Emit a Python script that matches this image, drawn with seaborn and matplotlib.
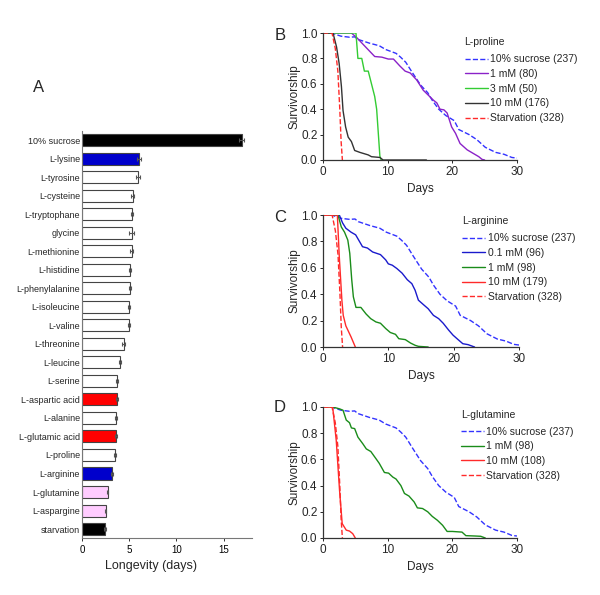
import numpy as np
import pandas as pd
import matplotlib
matplotlib.use("Agg")
import matplotlib.pyplot as plt
import seaborn as sns

sns.set_theme(style="ticks")
plt.rcParams['font.family'] = ['Liberation Sans', 'DejaVu Sans']

# ---- Panel A data: mean longevity (days) ----
names = ["10% sucrose", "L-lysine", "L-tyrosine", "L-cysteine", "L-tryptophane", "glycine",
         "L-methionine", "L-histidine", "L-phenylalanine", "L-isoleucine", "L-valine",
         "L-threonine", "L-leucine", "L-serine", "L-aspartic acid", "L-alanine",
         "L-glutamic acid", "L-proline", "L-arginine", "L-glutamine", "L-aspargine", "starvation"]
longevity = [16.9, 6.0, 5.9, 5.35, 5.3, 5.25, 5.25, 5.1, 5.05, 5.0, 5.0,
             4.4, 4.05, 3.75, 3.75, 3.6, 3.6, 3.5, 3.15, 2.7, 2.5, 2.45]
sem = [0.3, 0.2, 0.2, 0.15, 0.1, 0.3, 0.12, 0.12, 0.1, 0.1, 0.1,
       0.12, 0.1, 0.1, 0.1, 0.08, 0.1, 0.1, 0.08, 0.08, 0.08, 0.08]
bar_colors = ["black", "#0000cc", "white", "white", "white", "white", "white", "white",
              "white", "white", "white", "white", "white", "white", "#ff0000", "white",
              "#ff0000", "white", "#0000cc", "#ffccff", "#ffccff", "black"]

# ---- Survival curves (days, survivorship) ----
suc_d = [0, 1.3, 2.8, 4.1, 4.9, 5.4, 7.2, 8.7, 9.7, 11.3, 12.0, 12.8, 13.8, 15.1, 16.2,
         16.9, 17.9, 19.0, 20.3, 21.0, 22.6, 23.8, 25.1, 26.7, 28.0, 29.2, 30.0]
suc_s = [1.0, 1.0, 0.975, 0.967, 0.97, 0.95, 0.92, 0.90, 0.87, 0.84, 0.81, 0.77, 0.69, 0.59, 0.53,
         0.47, 0.40, 0.35, 0.31, 0.24, 0.20, 0.16, 0.10, 0.06, 0.045, 0.02, 0.015]
starv_d = [0, 1.4, 1.9, 2.3, 2.6, 2.8, 3.0]
starv_s = [1.0, 1.0, 0.88, 0.70, 0.40, 0.15, 0.0]

# L-proline
pro1_d = [0, 4.4, 5.2, 6.5, 7.25, 8.0, 9.1, 10.1, 10.9, 11.9, 12.7, 13.5, 14.5, 15.5, 16.3, 17.1,
          17.6, 18.1, 18.7, 19.2, 19.9, 20.5, 21.2, 22.3, 23.3, 24.1, 24.6, 25.0]
pro1_s = [1.0, 1.0, 0.965, 0.895, 0.855, 0.815, 0.81, 0.795, 0.795, 0.74, 0.70, 0.685, 0.63, 0.55,
          0.51, 0.47, 0.45, 0.40, 0.395, 0.37, 0.26, 0.21, 0.13, 0.08, 0.05, 0.026, 0.005, 0.0]
pro3_d = [0, 5.1, 5.4, 6.0, 6.4, 7.0, 8.0, 8.3, 8.8, 9.0]
pro3_s = [1.0, 1.0, 0.80, 0.80, 0.70, 0.70, 0.50, 0.40, 0.03, 0.0]
pro10_d = [0, 1.55, 2.1, 2.5, 2.85, 3.1, 3.5, 3.9, 4.4, 4.9, 5.7, 7.0, 7.5, 8.8, 9.3, 16.0]
pro10_s = [1.0, 1.0, 0.89, 0.76, 0.58, 0.39, 0.26, 0.18, 0.145, 0.075, 0.06, 0.04, 0.026, 0.02, 0.0, 0.0]

# L-arginine
arg01_d = [0, 2.5, 3.0, 3.5, 4.3, 5.0, 6.05, 6.8, 7.6, 8.8, 9.6, 10.0, 10.6, 11.3, 12.1, 12.9, 13.6,
           14.1, 14.6, 15.4, 16.1, 16.9, 17.7, 18.4, 19.2, 19.9, 20.7, 21.4, 22.2, 23.2]
arg01_s = [1.0, 1.0, 0.94, 0.90, 0.87, 0.85, 0.76, 0.75, 0.72, 0.70, 0.66, 0.63, 0.62, 0.595, 0.56,
           0.51, 0.48, 0.43, 0.355, 0.32, 0.29, 0.24, 0.215, 0.18, 0.13, 0.09, 0.055, 0.025, 0.018, 0.0]
arg1_d = [0, 2.3, 2.8, 3.3, 3.8, 4.1, 4.4, 4.65, 5.05, 5.8, 6.6, 7.3, 8.1, 8.8, 9.6, 10.3, 11.1,
          11.6, 12.6, 13.4, 14.1, 14.6, 16.1]
arg1_s = [1.0, 1.0, 0.91, 0.87, 0.81, 0.71, 0.51, 0.38, 0.30, 0.30, 0.25, 0.215, 0.19, 0.18, 0.14,
          0.11, 0.096, 0.063, 0.056, 0.03, 0.013, 0.005, 0.0]
arg10_d = [0, 2.2, 2.5, 2.9, 3.1, 3.5, 4.3, 4.95]
arg10_s = [1.0, 1.0, 0.68, 0.35, 0.24, 0.16, 0.076, 0.0]

# L-glutamine
gln1_d = [0, 1.5, 2.6, 3.1, 3.6, 4.1, 4.4, 4.9, 5.4, 6.15, 6.7, 7.4, 8.2, 8.7, 9.5, 10.15, 10.8,
          11.3, 12.05, 12.6, 13.3, 14.1, 14.6, 15.4, 16.2, 16.9, 17.7, 18.5, 19.2, 20.0, 21.5, 22.1,
          23.6, 24.4, 25.1]
gln1_s = [1.0, 1.0, 0.985, 0.975, 0.90, 0.88, 0.84, 0.835, 0.77, 0.72, 0.68, 0.66, 0.605, 0.57,
          0.50, 0.495, 0.465, 0.45, 0.40, 0.34, 0.32, 0.275, 0.23, 0.225, 0.20, 0.165, 0.135, 0.097,
          0.05, 0.05, 0.045, 0.018, 0.015, 0.013, 0.0]
gln10_d = [0, 1.5, 2.05, 2.56, 2.97, 3.6, 4.1, 4.6, 5.0]
gln10_s = [1.0, 1.0, 0.745, 0.365, 0.11, 0.06, 0.053, 0.033, 0.0]

blue_dash = "#3333ff"
red = "#ff2a2a"

fig = plt.figure(figsize=(6, 5.95), dpi=100)

# ---------------- Panel A ----------------
axA = fig.add_axes([0.1367, 0.0952, 0.2833, 0.685])
dfA = pd.DataFrame({"name": names, "longevity": longevity})
sns.barplot(data=dfA, x="longevity", y="name", hue="name", palette=bar_colors, legend=False,
            orient="h", width=0.65, edgecolor="#444444", linewidth=0.8, errorbar=None,
            saturation=1, ax=axA)
axA.errorbar(longevity, np.arange(len(names)), xerr=sem, fmt="none", ecolor="#555555",
             elinewidth=0.8, capsize=1.5, capthick=0.8)
axA.set_xlim(0, 18)
axA.set_ylim(len(names) - 0.5, -0.5)
axA.set_xticks([0, 5, 10, 15])
axA.set_xlabel("")
axA.set_ylabel("")
axA.tick_params(axis="x", labelsize=7, length=2.5, width=0.7, pad=2, colors="#333333")
axA.tick_params(axis="y", labelsize=6.5, length=0, pad=1.5)
for lbl in axA.get_xticklabels():
    lbl.set_color("black")
sns.despine(ax=axA)
for sp in ["left", "bottom"]:
    axA.spines[sp].set_color("#777777")
    axA.spines[sp].set_linewidth(0.8)
axA.text(0.406, -0.069, "Longevity (days)", transform=axA.transAxes, ha="center", va="center",
         fontsize=9)
fig.text(39 / 600, 1 - 88 / 595, "A", fontsize=12, ha="center", va="center")


def surv_panel(rect, series, title, letter, letter_y, leg_anchor):
    ax = fig.add_axes(rect)
    for d, s, color, ls, lab in series:
        sns.lineplot(x=d, y=s, color=color, linestyle=ls, linewidth=1.0, label=lab,
                     estimator=None, sort=False, ax=ax)
    ax.set_xlim(0, 30)
    ax.set_ylim(0, 1.0)
    ax.set_xticks([0, 10, 20, 30])
    ax.set_yticks([0, 0.2, 0.4, 0.6, 0.8, 1.0])
    ax.set_yticklabels(["0.0", "0.2", "0.4", "0.6", "0.8", "1.0"])
    ax.tick_params(labelsize=8.5, length=2.5, width=0.7, pad=1.5)
    sns.despine(ax=ax)
    for sp in ["left", "bottom"]:
        ax.spines[sp].set_linewidth(0.9)
        ax.spines[sp].set_color("#333333")
    ax.set_xlabel("Days", fontsize=8.5, labelpad=4)
    ax.set_ylabel("Survivorship", fontsize=8.5, labelpad=0.5)
    leg = ax.legend(title=title, loc="upper left", bbox_to_anchor=leg_anchor, frameon=False,
                    fontsize=7.5, title_fontsize=7.5, handlelength=2.2, handletextpad=0.25,
                    labelspacing=0.45, borderpad=0, borderaxespad=0)
    leg._legend_box.align = "left"
    leg._legend_box.sep = 5
    fig.text(280 / 600, 1 - letter_y / 595, letter, fontsize=12, ha="center", va="center")
    return ax


surv_panel([0.5383, 0.7311, 0.3233, 0.2134],
           [(suc_d, suc_s, blue_dash, "--", "10% sucrose (237)"),
            (pro1_d, pro1_s, "#8a22c8", "-", "1 mM (80)"),
            (pro3_d, pro3_s, "#33cc33", "-", "3 mM (50)"),
            (pro10_d, pro10_s, "#333333", "-", "10 mM (176)"),
            (starv_d, starv_s, red, "--", "Starvation (328)")],
           "L-proline", "B", 35, (0.73, 0.965))

surv_panel([0.5383, 0.4168, 0.3267, 0.2218],
           [(suc_d, suc_s, blue_dash, "--", "10% sucrose (237)"),
            (arg01_d, arg01_s, "#1a1acc", "-", "0.1 mM (96)"),
            (arg1_d, arg1_s, "#1a8c1a", "-", "1 mM (98)"),
            (arg10_d, arg10_s, red, "-", "10 mM (179)"),
            (starv_d, starv_s, red, "--", "Starvation (328)")],
           "L-arginine", "C", 217, (0.71, 0.99))

surv_panel([0.5383, 0.0958, 0.3233, 0.2202],
           [(suc_d, suc_s, blue_dash, "--", "10% sucrose (237)"),
            (gln1_d, gln1_s, "#1a8c1a", "-", "1 mM (98)"),
            (gln10_d, gln10_s, red, "-", "10 mM (108)"),
            (starv_d, starv_s, red, "--", "Starvation (328)")],
           "L-glutamine", "D", 408, (0.71, 0.98))

fig.savefig("out.png", dpi=100)
